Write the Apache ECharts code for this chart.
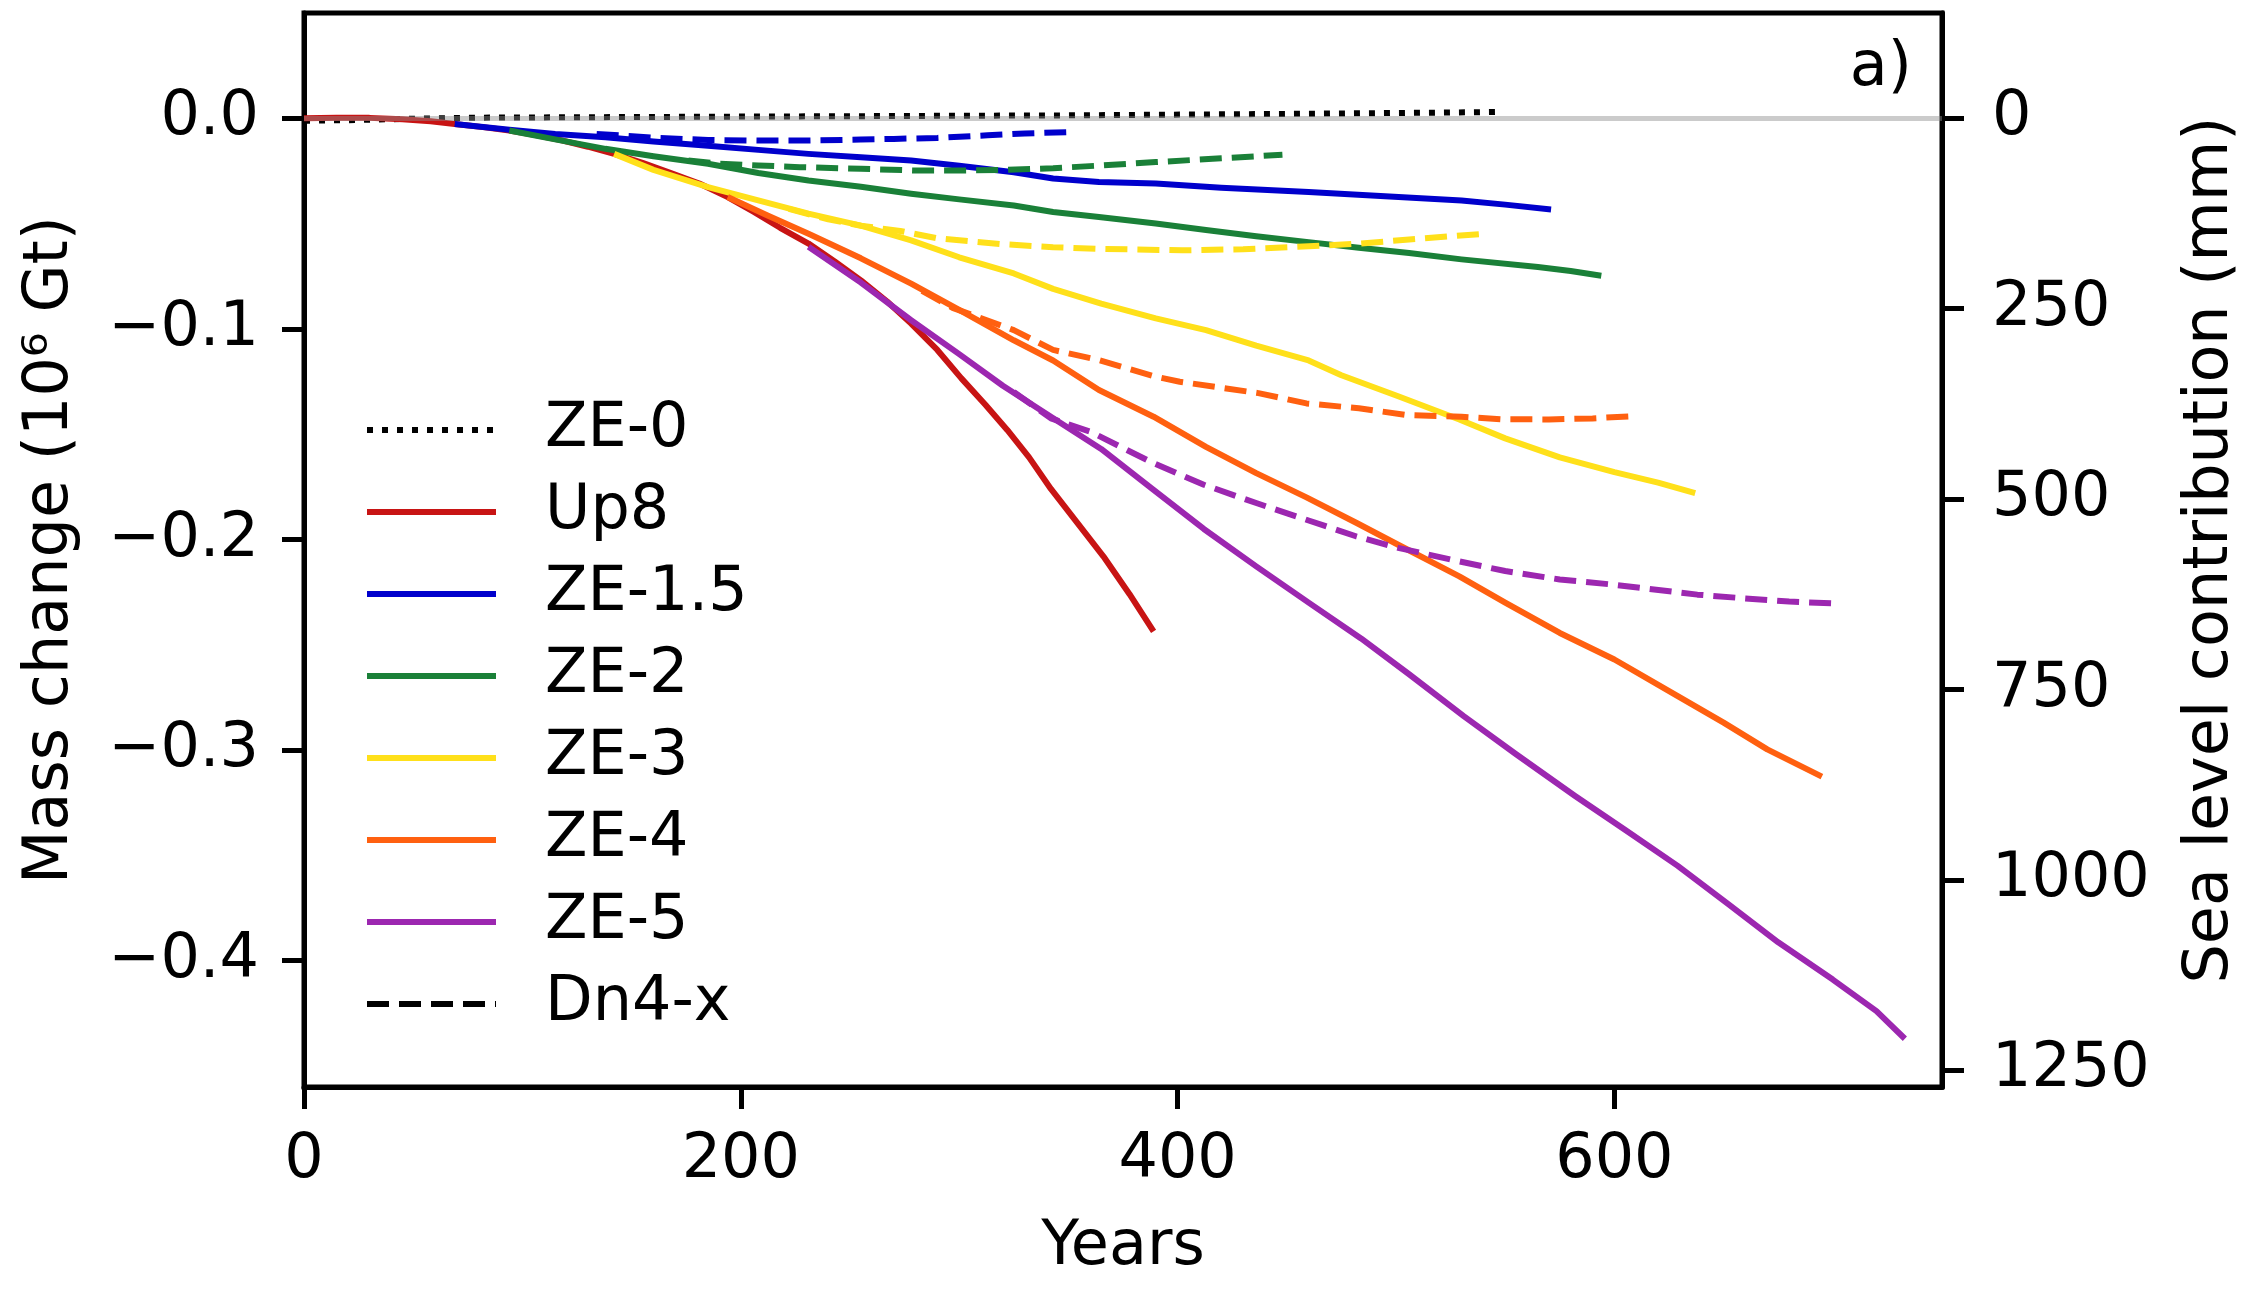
<!DOCTYPE html>
<html>
<head>
<meta charset="utf-8" />
<script src="https://cdn.jsdelivr.net/npm/echarts@6/dist/echarts.min.js"></script>
<style>
  html, body { margin: 0; padding: 0; background: #fff; }
  #main { width: 2250px; height: 1310px; }
</style>
</head>
<body>
<div id="main"></div>
<script type="text/javascript">
// tick positions
var xTicks = [0, 200, 400, 600];
var massTicks = [-0.4, -0.3, -0.2, -0.1, 0];
var seaTicks = [0, 250, 500, 750, 1000, 1250];

// [years, mass change (10^6 Gt)]
var ze0 = [[0,-0.0012],[25,-0.0008],[50,-0.0002],[80,0.0003],[150,0.0006],[250,0.001],[350,0.0014],[450,0.0021],[520,0.0027],[546,0.003]];
var up8 = [[0,0],[15,0.0003],[30,0.0002],[45,-0.0005],[58,-0.0014],[69,-0.0027],[82,-0.0042],[94,-0.0058],[106,-0.008],[118,-0.0105],[130,-0.0135],[142,-0.0169],[155,-0.0212],[168,-0.026],[181,-0.031],[194,-0.0374],[206,-0.0445],[218,-0.052],[231,-0.0595],[243,-0.068],[255,-0.077],[267,-0.087],[278,-0.0975],[290,-0.110],[301,-0.1235],[312,-0.136],[322,-0.148],[332,-0.161],[342,-0.176],[354,-0.192],[366,-0.208],[378,-0.226],[389,-0.2436]];
var ze15 = [[69,-0.0027],[94,-0.0054],[115,-0.0075],[138,-0.009],[160,-0.011],[185,-0.013],[208,-0.015],[231,-0.0169],[255,-0.0185],[278,-0.020],[300,-0.0225],[325,-0.0256],[343,-0.0286],[364,-0.0303],[390,-0.031],[420,-0.033],[460,-0.035],[495,-0.037],[530,-0.039],[550,-0.041],[571,-0.0433]];
var ze2 = [[94,-0.0058],[115,-0.010],[138,-0.0145],[160,-0.018],[185,-0.0216],[208,-0.026],[231,-0.0295],[255,-0.0325],[278,-0.0358],[300,-0.0385],[325,-0.0414],[343,-0.0445],[364,-0.0469],[390,-0.050],[413,-0.053],[436,-0.056],[460,-0.0588],[483,-0.0615],[506,-0.064],[530,-0.067],[565,-0.0706],[580,-0.0725],[594,-0.0748]];
var ze3 = [[142,-0.0169],[160,-0.0245],[185,-0.0327],[208,-0.039],[231,-0.0453],[255,-0.051],[278,-0.058],[300,-0.066],[325,-0.0737],[343,-0.081],[365,-0.088],[390,-0.095],[413,-0.1006],[436,-0.108],[460,-0.115],[475,-0.122],[501,-0.132],[529,-0.143],[550,-0.152],[575,-0.161],[600,-0.168],[620,-0.173],[637,-0.178]];
var ze4 = [[194,-0.0374],[212,-0.046],[231,-0.0548],[255,-0.0665],[278,-0.0785],[300,-0.091],[325,-0.1054],[343,-0.115],[364,-0.129],[389,-0.1417],[413,-0.156],[436,-0.1685],[459,-0.180],[482,-0.1922],[501,-0.2025],[529,-0.2175],[550,-0.230],[575,-0.2444],[600,-0.257],[629,-0.2744],[650,-0.287],[670,-0.2997],[695,-0.3126]];
var ze5 = [[231,-0.061],[255,-0.078],[278,-0.0959],[300,-0.112],[320,-0.127],[342,-0.1417],[365,-0.157],[389,-0.1764],[412,-0.195],[436,-0.2128],[460,-0.230],[484,-0.247],[506,-0.264],[531,-0.2839],[555,-0.302],[582,-0.3218],[605,-0.338],[629,-0.355],[652,-0.373],[675,-0.3913],[700,-0.409],[720,-0.424],[733,-0.4371]];

// Dn4-x runs, branching off each ZE run
var dn15 = [[134,-0.0074],[162,-0.0093],[185,-0.0103],[208,-0.0106],[227,-0.0106],[255,-0.0101],[270,-0.0098],[290,-0.0093],[313,-0.0081],[330,-0.0072],[349,-0.0066]];
var dn2 = [[176,-0.020],[190,-0.0215],[208,-0.0224],[227,-0.0232],[255,-0.024],[280,-0.0248],[301,-0.0248],[320,-0.0245],[343,-0.0237],[365,-0.0224],[390,-0.0208],[420,-0.019],[448,-0.0173]];
var dn3 = [[222,-0.043],[240,-0.048],[255,-0.051],[273,-0.0535],[290,-0.057],[320,-0.0598],[343,-0.0612],[365,-0.062],[402,-0.0627],[430,-0.0622],[460,-0.0608],[483,-0.0595],[506,-0.0576],[525,-0.056],[542,-0.0547]];
var dn4 = [[283,-0.082],[297,-0.090],[325,-0.1006],[343,-0.110],[364,-0.1148],[390,-0.1227],[401,-0.1251],[437,-0.1305],[459,-0.1354],[483,-0.1377],[505,-0.1409],[530,-0.1417],[548,-0.1429],[570,-0.143],[590,-0.1425],[609,-0.1414]];
var dn5 = [[325,-0.130],[342,-0.1425],[360,-0.1488],[389,-0.1638],[412,-0.174],[436,-0.1827],[460,-0.191],[482,-0.1986],[501,-0.204],[529,-0.2104],[550,-0.215],[575,-0.219],[600,-0.2215],[638,-0.2262],[660,-0.228],[680,-0.2295],[703,-0.2305]];

var FONT = 'DejaVu Sans';
var xMax = 750;
var yMin = -0.46, yMax = 0.05;
var mmPerUnit = 2765; // mm sea level per 10^6 Gt

var LW = 6;
var dashed = [22, 10];
var dotted = [6, 9];

function line(name, data, color, dash) {
  return {
    name: name,
    type: 'line',
    data: data,
    showSymbol: false,
    symbol: 'none',
    silent: true,
    lineStyle: { color: color, width: LW, type: dash || 'solid', cap: 'butt', join: 'round' },
    itemStyle: { color: color }
  };
}

var myChart = echarts.init(document.getElementById('main'));

var series = [
  line('ZE-0', ze0, '#000000', dotted),
  line('Up8', up8, '#c81414'),
  line('ZE-1.5', ze15, '#0000cc'),
  line('ZE-1.5 Dn4-x', dn15, '#0000cc', dashed),
  line('ZE-2', ze2, '#1a8038'),
  line('ZE-2 Dn4-x', dn2, '#1a8038', dashed),
  line('ZE-3', ze3, '#ffe01a'),
  line('ZE-3 Dn4-x', dn3, '#ffe01a', dashed),
  line('ZE-4', ze4, '#ff6010'),
  line('ZE-4 Dn4-x', dn4, '#ff6010', dashed),
  line('ZE-5', ze5, '#9c27b0'),
  line('ZE-5 Dn4-x', dn5, '#9c27b0', dashed)
];
// legend-only entry for the dashed style, also carries the zero line
var dnLegend = line('Dn4-x', [], '#000000', dashed);
dnLegend.z = 10;
dnLegend.markLine = {
  silent: true,
  symbol: ['none', 'none'],
  label: { show: false },
  lineStyle: { color: 'rgba(140,140,140,0.45)', width: 5, type: 'solid' },
  data: [{ yAxis: 0 }]
};
series.push(dnLegend);

var tickStyle = { color: '#000', width: 5 };
var spine = { show: true, onZero: false, lineStyle: { color: '#000', width: 5 } };

var option = {
  animation: false,
  backgroundColor: '#ffffff',
  grid: {
    left: 304, right: 304, top: 13, bottom: 223,
    show: true, borderColor: '#000', borderWidth: 5, backgroundColor: 'transparent'
  },
  legend: {
    orient: 'vertical',
    left: 359, top: 394,
    itemWidth: 129, itemHeight: 20, itemGap: 20,
    data: ['ZE-0', 'Up8', 'ZE-1.5', 'ZE-2', 'ZE-3', 'ZE-4', 'ZE-5', 'Dn4-x'],
    itemStyle: { opacity: 0 },
    lineStyle: { width: LW },
    textStyle: { fontFamily: FONT, fontSize: 62, color: '#000', padding: [0, 0, 0, 44] },
    selectedMode: false
  },
  xAxis: {
    type: 'value', min: 0, max: xMax,
    name: 'Years', nameLocation: 'middle', nameGap: 130,
    nameTextStyle: { fontFamily: FONT, fontSize: 62, color: '#000' },
    axisLine: spine,
    splitLine: { show: false },
    axisTick: { show: true, inside: false, length: 22, lineStyle: tickStyle, customValues: xTicks },
    axisLabel: { fontFamily: FONT, fontSize: 62, color: '#000', margin: 43, customValues: xTicks }
  },
  yAxis: [{
    type: 'value', min: yMin, max: yMax, position: 'left',
    name: 'Mass change (10\u2076 Gt)', nameLocation: 'middle', nameGap: 222, nameRotate: 90,
    nameTextStyle: { fontFamily: FONT, fontSize: 62, color: '#000' },
    axisLine: spine,
    splitLine: { show: false },
    axisTick: { show: true, inside: false, length: 22, lineStyle: tickStyle, customValues: massTicks },
    axisLabel: {
      fontFamily: FONT, fontSize: 62, color: '#000', margin: 45, customValues: massTicks,
      formatter: function (v) {
        if (Math.abs(v) < 1e-9) return '0.0';
        return (v < 0 ? '\u2212' : '') + Math.abs(v).toFixed(1);
      }
    }
  }, {
    type: 'value', position: 'right', inverse: true,
    min: -yMax * mmPerUnit, max: -yMin * mmPerUnit,
    name: 'Sea level contribution (mm)', nameLocation: 'middle', nameGap: 238, nameRotate: 90,
    nameTextStyle: { fontFamily: FONT, fontSize: 62, color: '#000' },
    axisLine: spine,
    splitLine: { show: false },
    axisTick: { show: true, inside: false, length: 22, lineStyle: tickStyle, customValues: seaTicks },
    axisLabel: {
      fontFamily: FONT, fontSize: 62, color: '#000', margin: 50, customValues: seaTicks,
      formatter: function (v) { return String(Math.round(v)); }
    }
  }],
  graphic: [{
    type: 'text', right: 338, top: 38,
    style: { text: 'a)', font: '62px "DejaVu Sans"', fill: '#000' }
  }],
  series: series
};

myChart.setOption(option);
</script>
</body>
</html>
